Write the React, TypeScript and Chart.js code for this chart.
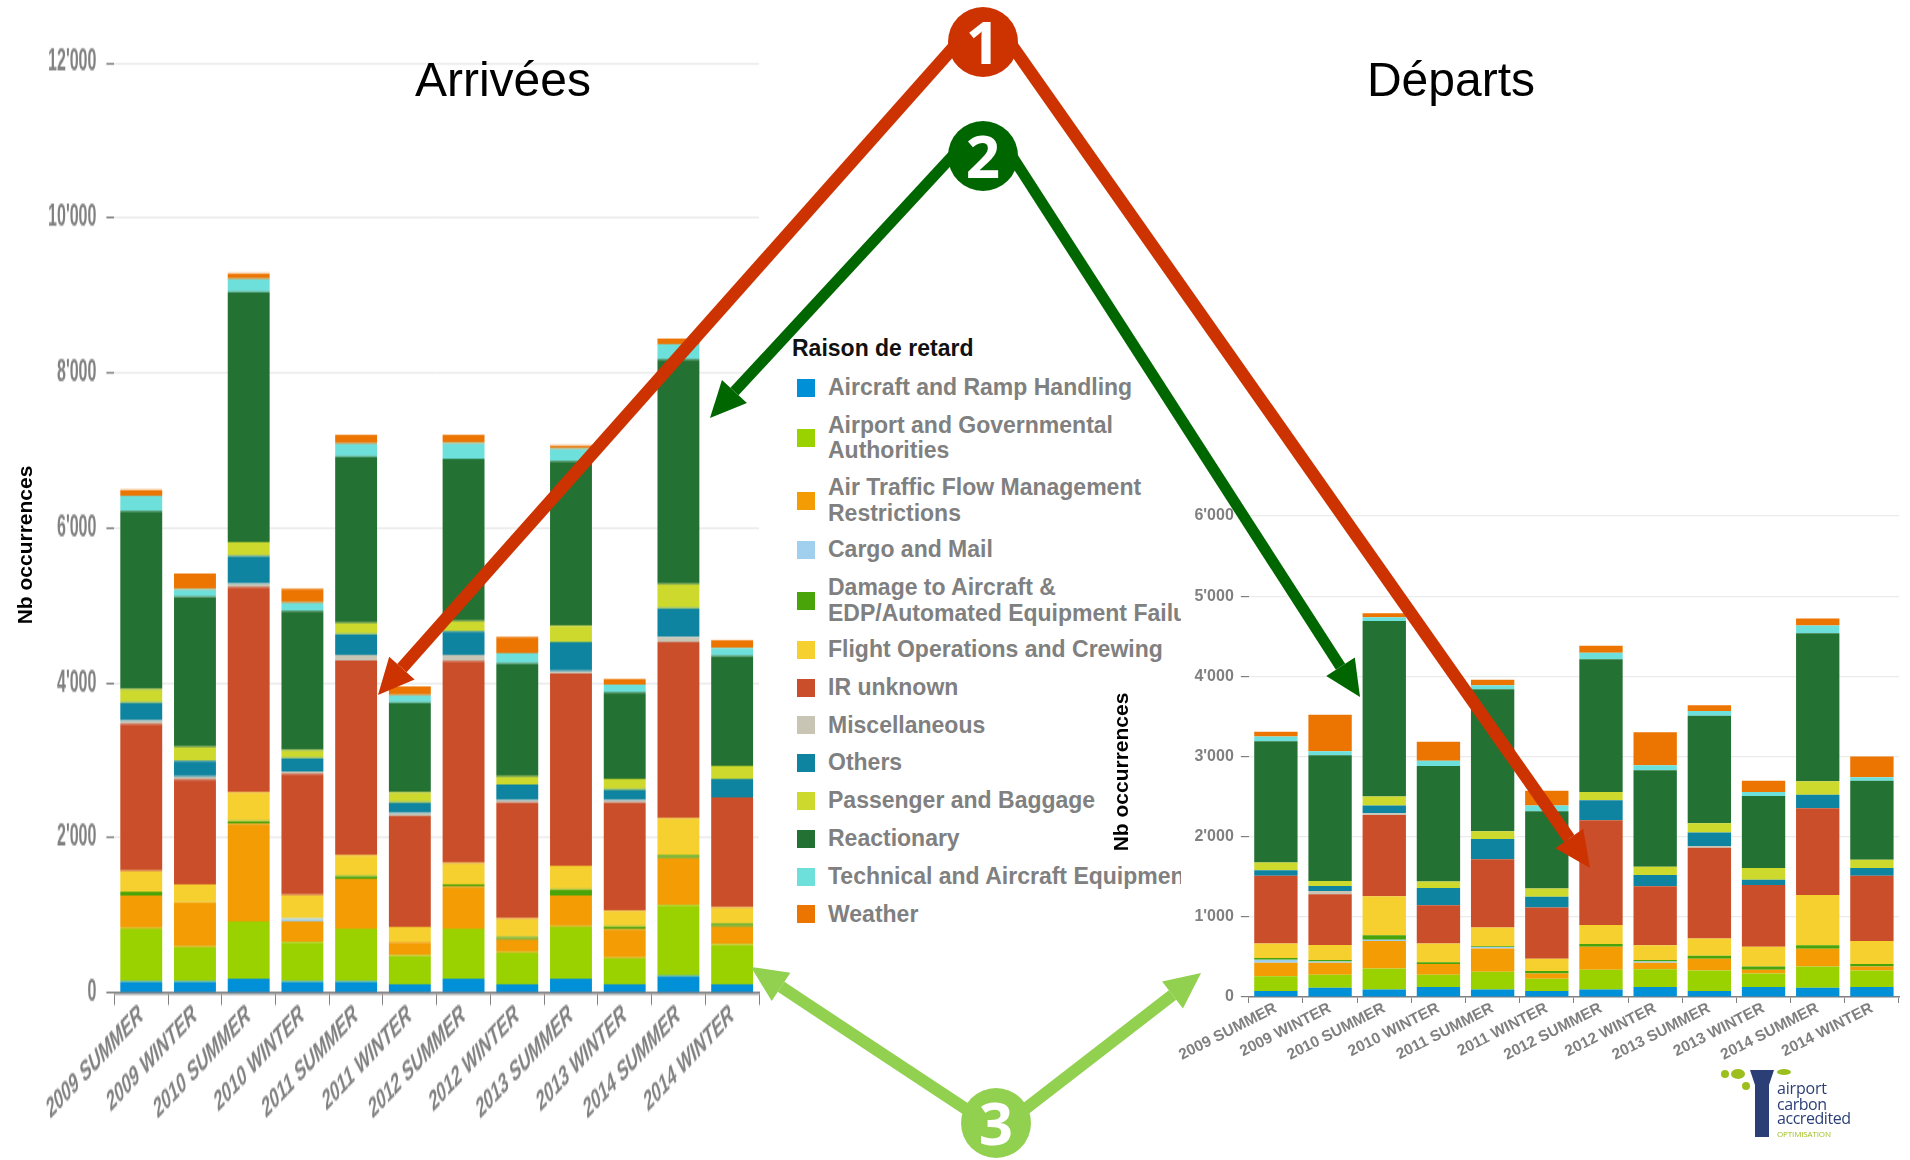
import React, { useEffect, useRef } from "react";
import { Chart, registerables } from "chart.js";

Chart.register(...registerables);

const categories = ["2009 SUMMER", "2009 WINTER", "2010 SUMMER", "2010 WINTER", "2011 SUMMER", "2011 WINTER", "2012 SUMMER", "2012 WINTER", "2013 SUMMER", "2013 WINTER", "2014 SUMMER", "2014 WINTER"];

const seriesNames = ["Aircraft and Ramp Handling", "Airport and Governmental\nAuthorities", "Air Traffic Flow Management\nRestrictions", "Cargo and Mail", "Damage to Aircraft &\nEDP/Automated Equipment Failure", "Flight Operations and Crewing", "IR unknown", "Miscellaneous", "Others", "Passenger and Baggage", "Reactionary", "Technical and Aircraft Equipment", "Weather"];
const seriesColors = ["#0090d8", "#9ad200", "#f39c04", "#a0d0ee", "#48a408", "#f5d02f", "#cb4e2b", "#c9c5b5", "#0e84a0", "#ced92e", "#247233", "#6ee0dc", "#ec7400"];

// Arrivées
const arrHandling = [150, 150, 185, 150, 150, 115, 185, 115, 185, 115, 218, 115];
const arrAirport = [685, 445, 740, 505, 680, 370, 645, 408, 672, 339, 916, 510];
const arrAtfm = [425, 575, 1260, 270, 645, 170, 540, 167, 402, 370, 607, 236];
const arrCargo = [0, 0, 0, 35, 0, 0, 0, 0, 0, 0, 0, 0];
const arrDamage = [45, 0, 37, 0, 33, 0, 33, 32, 79, 33, 37, 37];
const arrFlight = [270, 235, 370, 305, 273, 200, 273, 241, 301, 208, 477, 204];
const arrIr = [1900, 1350, 2650, 1565, 2510, 1430, 2611, 1495, 2482, 1393, 2273, 1421];
const arrMisc = [38, 38, 40, 28, 74, 37, 74, 33, 32, 33, 70, 0];
const arrOthers = [236, 205, 360, 172, 269, 135, 306, 199, 375, 134, 370, 241];
const arrPassenger = [170, 175, 177, 106, 139, 135, 134, 106, 209, 139, 309, 167];
const arrReactionary = [2300, 1940, 3227, 1796, 2151, 1153, 2090, 1459, 2124, 1116, 2898, 1421];
const arrTechnical = [197, 95, 168, 102, 167, 97, 202, 134, 162, 102, 196, 102];
const arrWeather = [80, 205, 74, 180, 113, 112, 108, 209, 40, 69, 74, 102];

// Départs
const depHandling = [76, 114, 92, 125, 92, 76, 92, 125, 76, 125, 114, 125];
const depAirport = [184, 162, 265, 151, 222, 151, 249, 222, 254, 167, 265, 205];
const depAtfm = [168, 152, 341, 135, 292, 65, 287, 81, 147, 49, 222, 49];
const depCargo = [38, 16, 17, 0, 17, 0, 0, 16, 0, 0, 0, 0];
const depDamage = [21, 16, 54, 22, 10, 33, 33, 16, 37, 38, 43, 32];
const depFlight = [179, 190, 487, 233, 233, 152, 238, 184, 217, 249, 629, 288];
const depIr = [845, 633, 1013, 477, 851, 638, 1305, 737, 1132, 769, 1083, 812];
const depMisc = [0, 38, 22, 0, 0, 0, 0, 0, 21, 0, 0, 0];
const depOthers = [70, 65, 97, 216, 254, 136, 249, 141, 168, 65, 167, 97];
const depPassenger = [98, 60, 114, 81, 98, 103, 103, 103, 114, 146, 168, 103];
const depReactionary = [1510, 1570, 2187, 1441, 1770, 964, 1657, 1202, 1343, 899, 1847, 986];
const depTechnical = [60, 49, 49, 65, 49, 70, 81, 65, 59, 49, 97, 43];
const depWeather = [60, 455, 49, 238, 70, 184, 87, 411, 71, 141, 87, 260];

const arrSeries = [arrHandling, arrAirport, arrAtfm, arrCargo, arrDamage, arrFlight, arrIr, arrMisc, arrOthers, arrPassenger, arrReactionary, arrTechnical, arrWeather];
const depSeries = [depHandling, depAirport, depAtfm, depCargo, depDamage, depFlight, depIr, depMisc, depOthers, depPassenger, depReactionary, depTechnical, depWeather];

const FONT = '"Liberation Sans", Arial, sans-serif';
const STRETCH = 1.85;

const formatTick = (v: number) => (v >= 1000 ? `${Math.floor(v / 1000)}'${String(v % 1000).padStart(3, "0")}` : String(v));

function buildChart(canvas: HTMLCanvasElement, series: number[][], o: { max: number; step: number; yWidth: number; xHeight: number; top: number; right: number; bar: number; rotation: number; tick: number; gridWidth: number; yPad: number; xPad: number }) {
  return new Chart(canvas, {
    type: "bar",
    data: {
      labels: categories,
      datasets: series.map((data, i) => ({
        label: seriesNames[i].replace("\n", " "),
        data,
        backgroundColor: seriesColors[i],
        borderWidth: 0,
        stack: "s",
        barPercentage: o.bar,
        categoryPercentage: 1,
      })),
    },
    options: {
      responsive: false,
      animation: false,
      maintainAspectRatio: false,
      layout: { padding: { top: o.top, right: o.right, left: 0, bottom: 0 } },
      plugins: { legend: { display: false }, tooltip: { enabled: false }, title: { display: false } },
      scales: {
        x: {
          stacked: true,
          afterFit: (s: any) => { s.height = o.xHeight; },
          grid: { offset: true, drawOnChartArea: false, drawTicks: true, tickLength: o.tick, tickColor: "#808080", lineWidth: 1 },
          border: { display: true, color: "#808080", width: 1.5 },
          ticks: { autoSkip: false, minRotation: o.rotation, maxRotation: o.rotation, padding: o.xPad, color: "#808080", font: { family: FONT, size: 15.5, weight: "bold" } },
        },
        y: {
          stacked: true,
          min: 0,
          max: o.max,
          afterFit: (s: any) => { s.width = o.yWidth; },
          grid: { color: "#ebebeb", lineWidth: o.gridWidth, drawTicks: true, tickLength: 8, tickColor: "#808080" },
          border: { display: false },
          ticks: { stepSize: o.step, padding: o.yPad, color: "#808080", font: { family: FONT, size: 16, weight: "bold" }, callback: (v: any) => formatTick(Number(v)) },
        },
      },
    },
  } as any);
}

function Arrow({ x1, y1, x2, y2, color, w = 11 }: { x1: number; y1: number; x2: number; y2: number; color: string; w?: number }) {
  const L = 36, W = 34;
  const d = Math.hypot(x2 - x1, y2 - y1);
  const ux = (x2 - x1) / d, uy = (y2 - y1) / d;
  const bx = x2 - ux * L, by = y2 - uy * L;
  const px = -uy, py = ux;
  return (
    <g>
      <line x1={x1} y1={y1} x2={bx} y2={by} stroke={color} strokeWidth={w} />
      <polygon points={`${x2},${y2} ${bx + (px * W) / 2},${by + (py * W) / 2} ${bx - (px * W) / 2},${by - (py * W) / 2}`} fill={color} />
    </g>
  );
}

function Badge({ cx, cy, color, n }: { cx: number; cy: number; color: string; n: string }) {
  return (
    <g>
      <circle cx={cx} cy={cy} r={35} fill={color} />
      <text x={cx} y={cy + 22} textAnchor="middle" fill="#fff" fontFamily='"Noto Sans", sans-serif' fontWeight={700} fontSize={60}>{n}</text>
    </g>
  );
}

export default function App() {
  const leftRef = useRef<HTMLCanvasElement>(null);
  const rightRef = useRef<HTMLCanvasElement>(null);

  useEffect(() => {
    const left = buildChart(leftRef.current!, arrSeries, { max: 12000, step: 2000, yWidth: 114.4, xHeight: 627 - 993 / STRETCH, top: 63 / STRETCH, right: 21, bar: 0.78, rotation: 30, tick: 6.5, gridWidth: 1, yPad: 10, xPad: -4 });
    const right = buildChart(rightRef.current!, depSeries, { max: 6000, step: 1000, yWidth: 148.8, xHeight: 163, top: 36, right: 11, bar: 0.8, rotation: 27, tick: 6, gridWidth: 1.2, yPad: 7, xPad: -4 });
    return () => { left.destroy(); right.destroy(); };
  }, []);

  return (
    <div style={{ position: "absolute", left: 0, top: 0, width: 1910, height: 1160, overflow: "hidden", background: "#fff", fontFamily: FONT }}>
      <div style={{ position: "absolute", left: 792, top: 335, width: 389, overflow: "hidden" }}>
        <div style={{ fontWeight: 700, fontSize: 23, lineHeight: "26px", color: "#111", marginBottom: 14 }}>Raison de retard</div>
        {seriesNames.map((name, i) => (
          <div key={name} style={{ display: "flex", alignItems: "center", paddingBottom: name.includes("\n") ? 11 : 12.2 }}>
            <span style={{ width: 18, height: 18, marginLeft: 5, marginRight: 13, flex: "none", background: seriesColors[i] }} />
            <span style={{ whiteSpace: "pre", fontWeight: 700, fontSize: 23, lineHeight: "25.6px", color: "#808080" }}>{name}</span>
          </div>
        ))}
      </div>

      <canvas ref={leftRef} width={780} height={627} style={{ position: "absolute", left: 0, top: 0, width: 780, height: 627, transform: `scaleY(${STRETCH})`, transformOrigin: "0 0" }} />
      <canvas ref={rightRef} width={810} height={680} style={{ position: "absolute", left: 1100, top: 480, width: 810, height: 680 }} />

      <svg width={1910} height={1160} style={{ position: "absolute", left: 0, top: 0 }}>
        <text x={503} y={96} textAnchor="middle" fontFamily={FONT} fontSize={48} fill="#000">Arrivées</text>
        <text x={1451} y={96} textAnchor="middle" fontFamily={FONT} fontSize={48} fill="#000">Départs</text>
        <text transform="translate(32,545) rotate(-90)" textAnchor="middle" fontFamily={FONT} fontWeight={700} fontSize={21} fill="#000">Nb occurrences</text>
        <text transform="translate(1128,772) rotate(-90)" textAnchor="middle" fontFamily={FONT} fontWeight={700} fontSize={21} fill="#000">Nb occurrences</text>

        <Arrow x1={960} y1={40} x2={378} y2={695} color="#cc3300" w={12.5} />
        <Arrow x1={1008} y1={40} x2={1590} y2={868} color="#cc3300" w={12.5} />
        <Arrow x1={958} y1={150} x2={710} y2={418} color="#006600" w={11} />
        <Arrow x1={1008} y1={150} x2={1360} y2={697} color="#006600" w={11} />
        <Arrow x1={972} y1={1113} x2={751} y2={967} color="#92d050" w={12} />
        <Arrow x1={1020} y1={1113} x2={1201} y2={973} color="#92d050" w={12} />
        <Badge cx={983} cy={42} color="#cc3300" n="1" />
        <Badge cx={983} cy={156} color="#006600" n="2" />
        <Badge cx={996} cy={1123} color="#92d050" n="3" />

        <g>
          <circle cx={1725} cy={1074} r={4} fill="#9dbf1e" />
          <ellipse cx={1738} cy={1074} rx={7} ry={5} fill="#9dbf1e" />
          <circle cx={1746} cy={1086} r={4} fill="#9dbf1e" />
          <ellipse cx={1784} cy={1072} rx={7} ry={3} fill="#9dbf1e" />
          <polygon points="1750,1070 1774,1070 1769,1085 1769,1137 1755,1137 1755,1085" fill="#2b3f76" />
          <text x={1777} y={1094} fontFamily='"Open Sans", sans-serif' fontSize={16} fill="#2b3f76" textLength={50}>airport</text>
          <text x={1777} y={1110} fontFamily='"Open Sans", sans-serif' fontSize={16} fill="#2b3f76" textLength={50}>carbon</text>
          <text x={1777} y={1124} fontFamily='"Open Sans", sans-serif' fontSize={16} fill="#2b3f76" textLength={74}>accredited</text>
          <text x={1777} y={1137} fontFamily='"Open Sans", sans-serif' fontSize={8} fill="#9dbf1e" textLength={54}>OPTIMISATION</text>
        </g>
      </svg>
    </div>
  );
}
